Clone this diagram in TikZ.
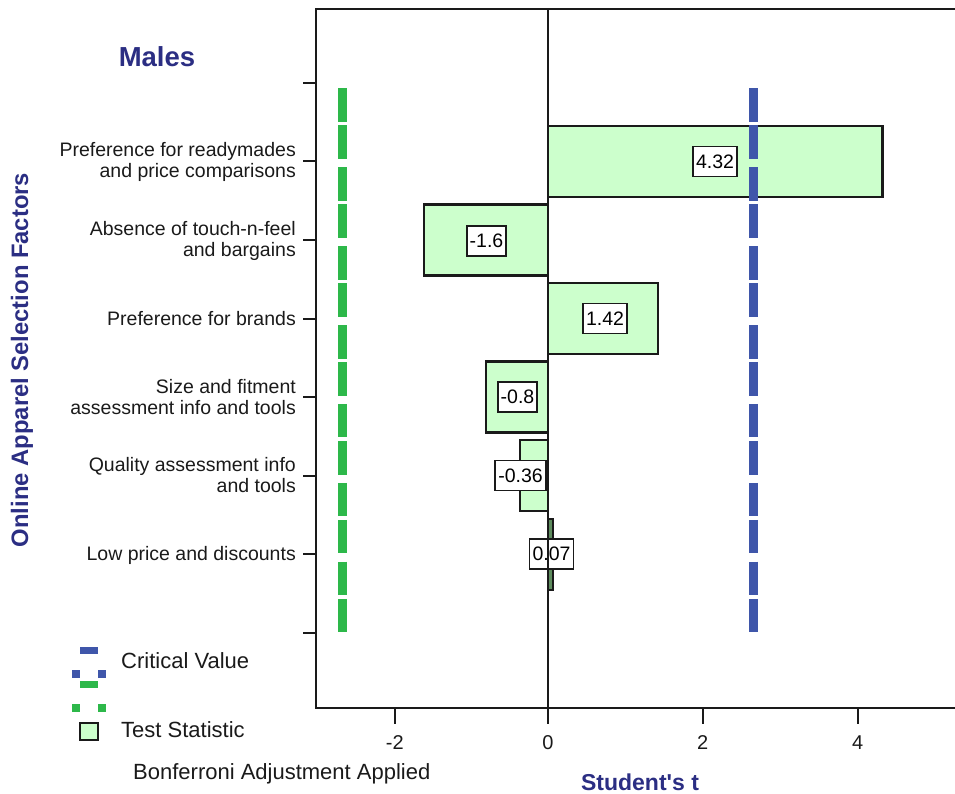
\documentclass[tikz,border=0pt]{standalone}
\usepackage{fontspec}
\setmainfont{Liberation Sans}
\definecolor{lgreen}{HTML}{CCFFCC}
\definecolor{dgreen}{HTML}{5E8C5E}
\definecolor{cvblue}{HTML}{3F56AA}
\definecolor{cvgreen}{HTML}{2DB84A}
\definecolor{navy}{HTML}{2B2E83}
\definecolor{axisc}{HTML}{1A1A1A}
\tikzset{
  axisline/.style={draw=axisc, line width=2pt},
  barbox/.style={draw=axisc, line width=2.2pt, fill=lgreen},
  vallabel/.style={draw=axisc, line width=1.8pt, fill=white, minimum height=30pt, inner xsep=3pt, inner ysep=0pt, font=\fontsize{19.5}{21}\selectfont},
  catlabel/.style={anchor=east, align=right, inner sep=0pt, text=axisc, font=\fontsize{19.5}{21}\selectfont},
  ticklabel/.style={inner sep=0pt, text=axisc, font=\fontsize{20}{22}\selectfont},
  legtext/.style={anchor=west, inner sep=0pt, text=axisc, font=\fontsize{22}{24}\selectfont},
  titletext/.style={inner sep=0pt, text=navy, font=\bfseries\fontsize{#1}{#1}\selectfont},
  critline/.style={draw=#1, line width=9pt, dash pattern=on 33.5pt off 3.6pt on 33.5pt off 8.3pt}
}
\begin{document}
\begin{tikzpicture}[x=1pt,y=-1pt]
\useasboundingbox (0,0) rectangle (955,794);
% frame
\draw[axisline] (955,9) -- (316,9) -- (316,708) -- (955,708);
% y ticks
\foreach \yy in {83,161.5,240,318.5,397,475.5,554,632.5}
  \draw[axisline] (303,\yy) -- (316,\yy);
% x ticks
\foreach \xx in {394.8,548,702.8,857.6}
  \draw[axisline] (\xx,708) -- (\xx,724);
% tick labels
\node[ticklabel] (tm2) at (394.8,743) {-2};
\node[ticklabel] (t0) at (548,743) {0};
\node[ticklabel] (t2) at (702.8,743) {2};
\node[ticklabel] (t4) at (857.6,743) {4};
% bars
\draw[barbox] (548,126) rectangle (882.4,197);
\draw[barbox] (424.2,204.5) rectangle (548,275.5);
\draw[barbox] (548,283) rectangle (657.9,354);
\draw[barbox] (486.1,361.5) rectangle (548,432.5);
\draw[barbox] (520.1,440) rectangle (548,511);
\draw[draw=axisc, line width=2pt, fill=dgreen] (548,518.5) rectangle (553.4,589.5);
% value labels
\node[vallabel] (v1) at (715,161.5) {4.32};
\node[vallabel] (v2) at (486.5,241) {-1.6};
\node[vallabel] (v3) at (605,318.5) {1.42};
\node[vallabel] (v4) at (517.5,397) {-0.8};
\node[vallabel] (v5) at (520.5,475.5) {-0.36};
\node[vallabel] (v6) at (551.5,554) {0.07};
% zero line
\draw[axisline] (548,9) -- (548,708);
% critical value lines
\draw[critline=cvgreen] (342.8,88.3) -- (342.8,634);
\draw[critline=cvblue] (753.8,88.3) -- (753.8,634);
% category labels
\node[catlabel] (c1) at (296,161.5) {Preference for readymades\\and price comparisons};
\node[catlabel] (c2) at (296,241) {Absence of touch-n-feel\\and bargains};
\node[catlabel] (c3) at (296,319) {Preference for brands};
\node[catlabel] (c4) at (296,397) {Size and fitment\\assessment info and tools};
\node[catlabel] (c5) at (296,475.5) {Quality assessment info\\and tools};
\node[catlabel] (c6) at (296,555) {Low price and discounts};
% titles
\node[titletext=27.5] (title) at (157,57) {Males};
\node[titletext=23.8, rotate=90] (ytitle) at (22,360) {Online Apparel Selection Factors};
\node[titletext=23] (xtitle) at (640,782) {Student\textquotesingle s t};
% legend
\fill[cvblue] (80,647) rectangle (98,654);
\fill[cvblue] (72,670) rectangle (80,678);
\fill[cvblue] (98,670) rectangle (106,678);
\fill[cvgreen] (80,681) rectangle (98,688);
\fill[cvgreen] (72,704) rectangle (80,712);
\fill[cvgreen] (98,704) rectangle (106,712);
\draw[draw=axisc, line width=2.5pt, fill=lgreen] (80,723) rectangle (98,740);
\node[legtext] (l1) at (121,661) {Critical Value};
\node[legtext] (l2) at (121,730) {Test Statistic};
\node[legtext] (l3) at (133,774) {Bonferroni Adjustment Applied};
\end{tikzpicture}
\end{document}
